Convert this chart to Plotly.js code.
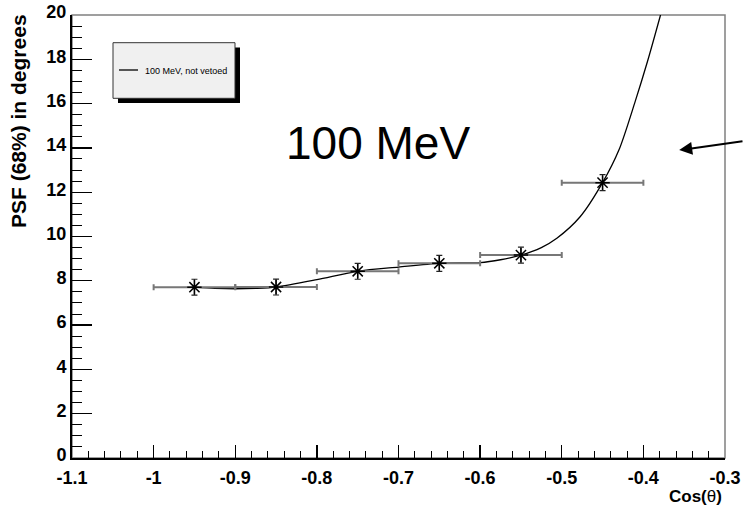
<!DOCTYPE html>
<html>
<head>
<meta charset="utf-8">
<script src="https://cdn.plot.ly/plotly-3.0.1.min.js"></script>
<style>html,body{margin:0;padding:0;background:#fff;}#plot{width:744px;height:507px;}</style>
</head>
<body>
<div id="plot"></div>
<script>
// Measured points (cos theta bin centres) and PSF 68% values
const xPts = [-0.95, -0.85, -0.75, -0.65, -0.55, -0.45];
const yPts = [7.71, 7.72, 8.43, 8.79, 9.16, 12.43];
const xErr = [0.05, 0.05, 0.05, 0.05, 0.05, 0.05];
const yErr = [0.36, 0.36, 0.36, 0.36, 0.36, 0.36];
// Fitted curve
const curveX = [-0.95, -0.925, -0.9, -0.875, -0.85, -0.8, -0.75, -0.7, -0.65, -0.6, -0.575, -0.55, -0.525, -0.506, -0.4775, -0.45, -0.43, -0.41, -0.395, -0.379];
const curveY = [7.71, 7.66, 7.64, 7.66, 7.72, 8.05, 8.43, 8.62, 8.79, 8.82, 8.95, 9.16, 9.5, 9.92, 10.89, 12.43, 13.9, 16.1, 17.9, 20];
// Axis tick labels
const xTickVals = [-1.1, -1, -0.9, -0.8, -0.7, -0.6, -0.5, -0.4, -0.3];
const xTickText = ['-1.1', '-1', '-0.9', '-0.8', '-0.7', '-0.6', '-0.5', '-0.4', '-0.3'];
const yTickVals = [0, 2, 4, 6, 8, 10, 12, 14, 16, 18, 20];
const yTickText = ['0', '2', '4', '6', '8', '10', '12', '14', '16', '18', '20'];
const legendLabel = "100 MeV, not vetoed";
const bigLabel = "100 MeV";

const L = 72, T = 15, W = 653, H = 443;
const px = x => (x - L) / W;
const py = y => (T + H - y) / H;
const FONT = "Liberation Sans, Arial, Helvetica, sans-serif";
const bold = s => '<b>' + s + '</b>';

const traces = [
  {
    x: curveX, y: curveY, type: 'scatter', mode: 'lines',
    line: {color: '#000', width: 1.3, shape: 'spline', smoothing: 0.8},
    showlegend: false, hoverinfo: 'skip'
  },
  {
    x: xPts, y: yPts, type: 'scatter', mode: 'markers',
    marker: {symbol: 'asterisk-open', size: 12, color: '#000', line: {color: '#000', width: 1.5}},
    error_x: {type: 'data', array: xErr, visible: true, color: '#777', thickness: 2, width: 3},
    error_y: {type: 'data', array: yErr, visible: true, color: '#222', thickness: 1.2, width: 3},
    showlegend: false
  }
];

const layout = {
  width: 744, height: 507,
  margin: {l: L, r: 744 - L - W, t: T, b: 507 - T - H},
  paper_bgcolor: '#fff', plot_bgcolor: '#fff',
  showlegend: false,
  font: {family: FONT, color: '#000'},
  xaxis: {
    range: [-1.1, -0.3], tickmode: 'array', tickvals: xTickVals, ticktext: xTickText.map(bold),
    ticks: 'inside', ticklen: 13, tickwidth: 1.3, tickcolor: '#000',
    minor: {tickmode: 'linear', tick0: -1.1, dtick: 0.02, ticks: 'inside', ticklen: 7, tickwidth: 1, tickcolor: '#000', showgrid: false},
    showgrid: false, zeroline: false, showline: true, linecolor: '#000', linewidth: 2,
    tickfont: {family: FONT, size: 18, weight: 'bold', color: '#000'},
    ticklabelstandoff: 2
  },
  yaxis: {
    range: [0, 20], tickmode: 'array', tickvals: yTickVals, ticktext: yTickText.map(bold),
    ticks: 'inside', ticklen: 20, tickwidth: 1.3, tickcolor: '#000',
    minor: {tickmode: 'linear', tick0: 0, dtick: 0.5, ticks: 'inside', ticklen: 10, tickwidth: 1, tickcolor: '#000', showgrid: false},
    showgrid: false, zeroline: false, showline: true, linecolor: '#000', linewidth: 2,
    tickfont: {family: FONT, size: 18, weight: 'bold', color: '#000'},
    ticklabelshift: -3
  },
  shapes: [
    {type: 'rect', xref: 'paper', yref: 'paper', x0: 0, x1: 1, y0: 0, y1: 1,
     line: {color: '#808080', width: 1.5}, layer: 'below'},
    {type: 'rect', xref: 'paper', yref: 'paper', x0: px(118), x1: px(240), y0: py(103), y1: py(47.5),
     fillcolor: '#000', line: {width: 0}},
    {type: 'rect', xref: 'paper', yref: 'paper', x0: px(113), x1: px(235), y0: py(98.3), y1: py(42.7),
     fillcolor: '#f0f0f0', line: {color: '#333', width: 1}},
    {type: 'line', xref: 'paper', yref: 'paper', x0: px(119), x1: px(138), y0: py(70), y1: py(70),
     line: {color: '#000', width: 1.3}}
  ],
  annotations: [
    {xref: 'paper', yref: 'paper', x: px(143), y: py(70.5), xanchor: 'left', yanchor: 'middle',
     text: legendLabel, showarrow: false, font: {family: FONT, size: 9, color: '#000'}},
    {xref: 'paper', yref: 'paper', x: px(378), y: py(143), xanchor: 'center', yanchor: 'middle',
     text: bigLabel, showarrow: false, font: {family: FONT, size: 46, color: '#000'}},
    {xref: 'x', yref: 'y', x: -0.3561, y: 13.9, ax: 72, ay: -9, text: '', showarrow: true,
     arrowhead: 2, arrowsize: 1.3, arrowwidth: 2, arrowcolor: '#000'},
    {xref: 'paper', yref: 'paper', x: px(18), y: py(121), xanchor: 'center', yanchor: 'middle',
     textangle: -90, text: '<b>PSF (68%) in degrees</b>', showarrow: false,
     font: {family: FONT, size: 21, color: '#000'}},
    {xref: 'paper', yref: 'paper', x: px(724), y: py(496), xanchor: 'right', yanchor: 'middle',
     text: '<b>Cos(</b>θ<b>)</b>', showarrow: false,
     font: {family: FONT, size: 17, color: '#000'}}
  ]
};

Plotly.newPlot('plot', traces, layout, {staticPlot: true, displayModeBar: false});
</script>
</body>
</html>
